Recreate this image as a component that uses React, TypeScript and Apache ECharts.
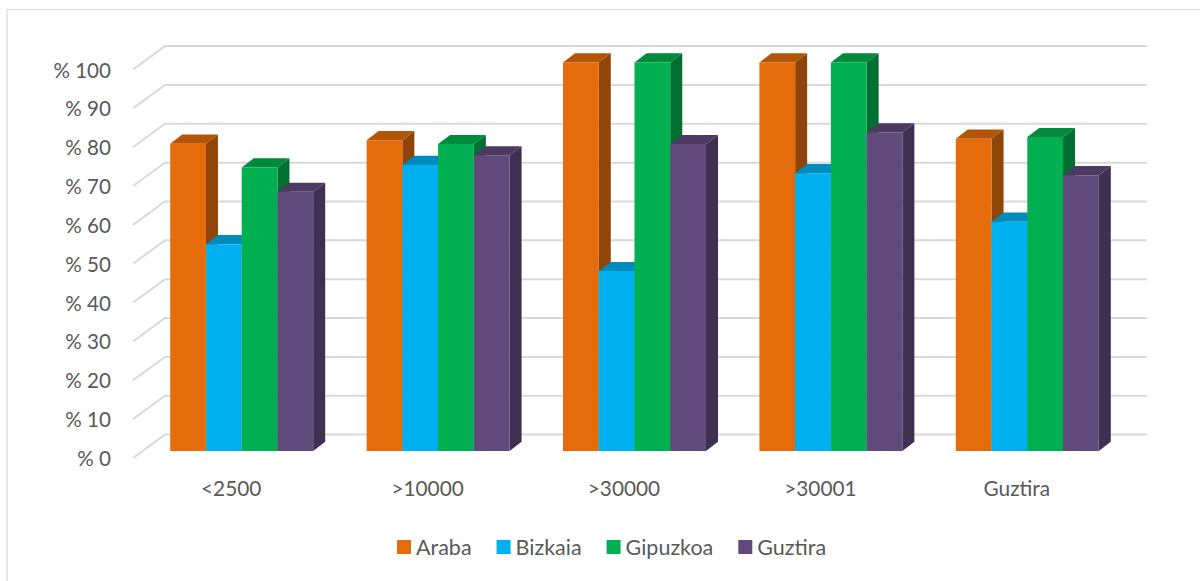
import React, { useEffect, useRef } from "react";
import * as echarts from "echarts";

const categories = ["<2500", ">10000", ">30000", ">30001", "Guztira"];
const yTicks = [0, 10, 20, 30, 40, 50, 60, 70, 80, 90, 100];
const araba = [79.1, 80, 100, 100, 80.4];
const bizkaia = [53.2, 73.6, 46.3, 71.5, 59];
const gipuzkoa = [73, 79, 100, 100, 80.8];
const guztira = [66.7, 76.1, 79, 82, 71];

const seriesNames = ["Araba", "Bizkaia", "Gipuzkoa", "Guztira"];
const seriesValues = [araba, bizkaia, gipuzkoa, guztira];
const frontColors = ["#E46C0A", "#00B0F0", "#00B050", "#604A7B"];
const topColors = ["#B35506", "#008BBD", "#008A3E", "#4C3A61"];
const sideColors = ["#8F4507", "#006F97", "#006F32", "#3F2F50"];

const WALL_DX = 32;
const WALL_DY = -23.4;
const BAR_SHIFT_X = 10.5;
const BAR_SHIFT_Y = -7;
const DEPTH_X = 12;
const DEPTH_Y = -9.2;
const BAR_RATIO = 0.182;
const TEXT = "#595959";
const FONT = "Lato";

function wallItem(params: any, api: any) {
  const cs = params.coordSys;
  const p = api.coord([0, api.value(1)]);
  const y = p[1];
  const x0 = cs.x;
  const x1 = cs.x + WALL_DX;
  const x2 = cs.x + cs.width + WALL_DX;
  return {
    type: "polyline",
    shape: { points: [[x0, y], [x1, y + WALL_DY], [x2, y + WALL_DY]] },
    style: { fill: "none", stroke: "#D9D9D9", lineWidth: 2 },
  };
}

function barRenderer(seriesIndex: number) {
  return (params: any, api: any) => {
    const top = api.coord([api.value(0), api.value(1)]);
    const base = api.coord([api.value(0), 0]);
    const w = api.size([1, 0])[0] * BAR_RATIO;
    const x = top[0] + BAR_SHIFT_X + (seriesIndex - 2) * w;
    const yt = top[1] + BAR_SHIFT_Y;
    const yb = base[1] + BAR_SHIFT_Y;
    return {
      type: "group",
      children: [
        {
          type: "polygon",
          shape: { points: [[x + w, yt], [x + w + DEPTH_X, yt + DEPTH_Y], [x + w + DEPTH_X, yb + DEPTH_Y], [x + w, yb]] },
          style: { fill: sideColors[seriesIndex] },
        },
        {
          type: "polygon",
          shape: { points: [[x, yt], [x + DEPTH_X, yt + DEPTH_Y], [x + w + DEPTH_X, yt + DEPTH_Y], [x + w, yt]] },
          style: { fill: topColors[seriesIndex] },
        },
        {
          type: "rect",
          shape: { x, y: yt, width: w, height: yb - yt },
          style: { fill: frontColors[seriesIndex] },
        },
      ],
    };
  };
}

export default function App() {
  const ref = useRef<HTMLDivElement>(null);
  useEffect(() => {
    const chart = echarts.init(ref.current!, undefined, { renderer: "svg" });
    chart.setOption({
      animation: false,
      backgroundColor: "#FFFFFF",
      textStyle: { fontFamily: FONT },
      grid: { left: 133, top: 69.5, width: 982, height: 388.5 },
      xAxis: {
        type: "category",
        data: categories,
        axisLine: { show: false },
        axisTick: { show: false },
        axisLabel: { color: TEXT, fontFamily: FONT, fontSize: 20.8, margin: 18.5 },
      },
      yAxis: {
        type: "value",
        min: 0,
        max: 100,
        interval: 10,
        axisLine: { show: false },
        axisTick: { show: false },
        splitLine: { show: false },
        axisLabel: {
          color: TEXT,
          fontFamily: FONT,
          fontSize: 20.6,
          margin: 22,
          formatter: (v: number) => `% ${v}`,
        },
      },
      legend: {
        data: seriesNames,
        left: 397,
        top: 536,
        padding: 0,
        icon: "rect",
        itemWidth: 14,
        itemHeight: 14,
        itemGap: 25,
        textStyle: { color: TEXT, fontFamily: FONT, fontSize: 21.5 },
      },
      graphic: [
        {
          type: "polyline",
          silent: true,
          shape: { points: [[7, 600], [7, 9.5], [1210, 9.5]] },
          style: { fill: "none", stroke: "#D9D9D9", lineWidth: 1.2 },
        },
      ],
      series: [
        {
          type: "custom",
          name: "wall",
          silent: true,
          z: 1,
          renderItem: wallItem,
          data: yTicks.map((t) => [0, t]),
          encode: { x: 0, y: 1 },
        },
        ...seriesNames.map((name, i) => ({
          type: "custom",
          name,
          z: 2 + i,
          itemStyle: { color: frontColors[i] },
          renderItem: barRenderer(i),
          data: seriesValues[i].map((v, c) => [c, v]),
          encode: { x: 0, y: 1 },
        })),
      ],
    });
    return () => chart.dispose();
  }, []);
  return (
    <div
      ref={ref}
      style={{ position: "absolute", left: 0, top: 0, width: 1200, height: 581, overflow: "hidden" }}
    />
  );
}
